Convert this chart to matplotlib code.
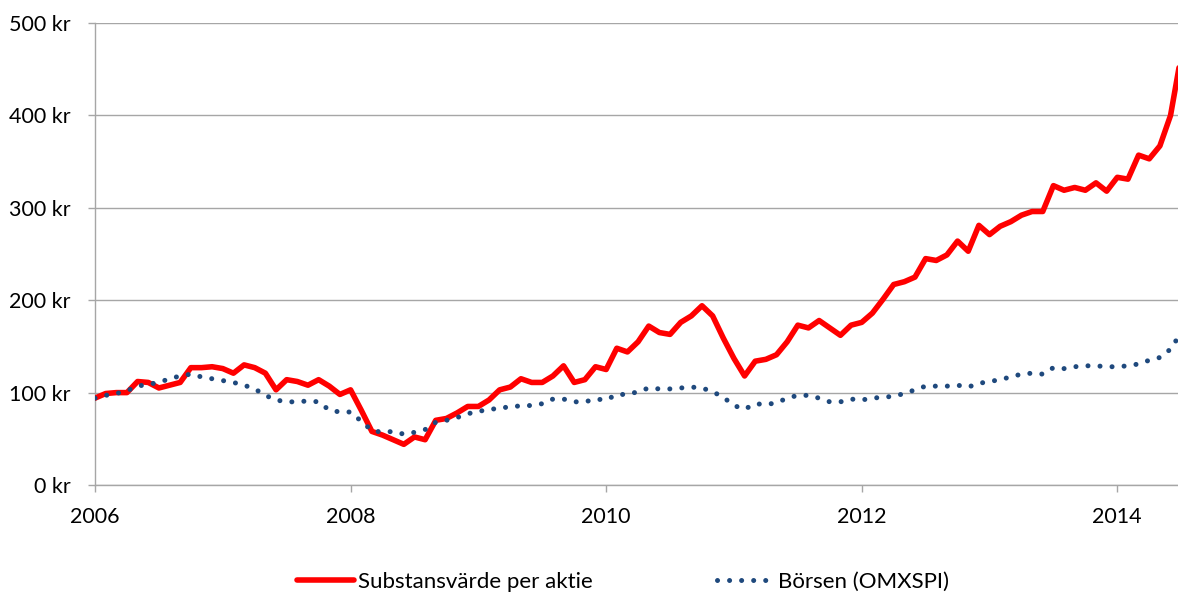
import matplotlib
matplotlib.use('Agg')
import matplotlib.pyplot as plt
import numpy as np

plt.rcParams['font.family'] = ['Lato', 'DejaVu Sans']
plt.rcParams['font.size'] = 15.5

# månadsdata från januari 2006
substans = [94, 99, 100, 100, 112, 111, 105, 108, 111, 127, 127, 128,
            126, 121, 130, 127, 121, 103, 114, 112, 108, 114, 107, 98,
            103, 81, 58, 54, 49, 44, 52, 49, 70, 72, 78, 85,
            85, 92, 103, 106, 115, 111, 111, 118, 129, 111, 114, 128,
            125, 148, 144, 155, 172, 165, 163, 176, 183, 194, 183, 159,
            137, 118, 134, 136, 141, 155, 173, 170, 178, 170, 162, 173,
            176, 186, 201, 217, 220, 225, 245, 243, 249, 264, 253, 281,
            271, 280, 285, 292, 296, 296, 324, 319, 322, 319, 327, 318,
            333, 331, 357, 353, 367, 400, 465]
borsen = [94, 97, 99, 102, 107, 109, 111, 115, 118, 120, 117, 115,
          113, 111, 108, 104, 97, 92, 90, 90, 91, 90, 81, 79,
          79, 69, 59, 57, 58, 55, 57, 60, 68, 70, 73, 77,
          80, 81, 84, 84, 86, 86, 88, 93, 93, 90, 90, 93,
          92, 98, 98, 101, 105, 104, 104, 105, 106, 105, 101, 95,
          86, 82, 88, 87, 89, 94, 97, 97, 94, 90, 90, 93,
          92, 94, 95, 96, 99, 103, 107, 107, 107, 108, 106, 110,
          112, 114, 117, 120, 121, 120, 127, 126, 128, 129, 129, 128,
          128, 129, 131, 135, 138, 147, 165]
years = ['2006', '2008', '2010', '2012', '2014']
y_ticks = [0, 100, 200, 300, 400, 500]

months = np.arange(len(substans))

fig = plt.figure(figsize=(11.78, 5.92), dpi=100)
ax = fig.add_axes([95 / 1178, 107 / 592, 1 - 95 / 1178, 462 / 592])

grid_col = '#A6A6A6'
ax.plot(months, substans, color='#FF0000', lw=4, solid_joinstyle='round',
        solid_capstyle='round', label='Substansvärde per aktie', zorder=3)
ax.plot(months, borsen, color='#1F497D', lw=3.6, linestyle=(0, (0.01, 2.4)),
        dash_capstyle='round', label='Börsen (OMXSPI)', zorder=4)

ax.set_xlim(0, 101.7)
ax.set_ylim(0, 500)
ax.set_yticks(y_ticks)
ax.set_yticklabels([f'{v} kr' for v in y_ticks])
ax.set_xticks(np.arange(0, 97, 24))
ax.set_xticklabels(years)

ax.grid(axis='y', color=grid_col, lw=1.0)
ax.set_axisbelow(True)
for s in ['top', 'right']:
    ax.spines[s].set_visible(False)
for s in ['left', 'bottom']:
    ax.spines[s].set_color(grid_col)
    ax.spines[s].set_linewidth(1.0)
ax.tick_params(axis='y', length=5.3, width=1.0, color=grid_col, pad=12.5)
ax.tick_params(axis='x', length=5, width=1.0, color=grid_col, pad=11)

fig.legend(loc='center', bbox_to_anchor=(623 / 1178, 10 / 592), ncol=2,
           frameon=False, handlelength=2.57, handletextpad=0.18,
           columnspacing=5.6, fontsize=16)

fig.savefig('out.png', dpi=100)
